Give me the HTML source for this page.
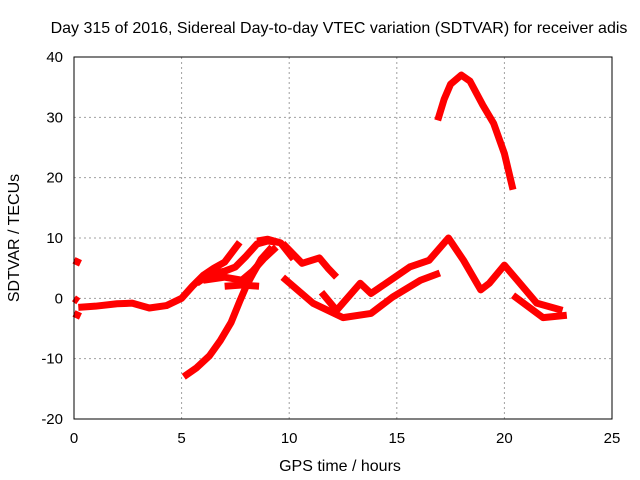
<!DOCTYPE html>
<html><head><meta charset="utf-8"><style>
body{margin:0;background:#fff;}
svg{display:block;font-family:"Liberation Sans",sans-serif;}
</style></head><body>
<svg id="chart" width="640" height="480">
<text x="339" y="33" text-anchor="middle" font-size="16" fill="#000">Day 315 of 2016, Sidereal Day-to-day VTEC variation (SDTVAR) for receiver adis</text>
<g id="grid"></g>
<g id="series"></g>
<rect x="74" y="57" width="538" height="362" fill="none" stroke="#000" stroke-width="1"/>
<g id="ticks"></g>
<text x="340" y="471" text-anchor="middle" font-size="16">GPS time / hours</text>
<text transform="translate(19,238) rotate(-90)" text-anchor="middle" font-size="16">SDTVAR / TECUs</text>
</svg>
<script>
const xTicks=[0,5,10,15,20,25];
const yTicks=[-20,-10,0,10,20,30,40];
const seriesNames=['s1','s2','s3','s4','s5','s6','s7','s8','s9','s10','s11','s12','s13','s14'];
const s1=[[0.2,-1.5],[1,-1.3],[2,-0.9],[2.7,-0.8],[3.5,-1.6],[4.3,-1.2],[5,0],[5.5,2],[6,3.8],[6.5,5],[7,6],[7.7,9.3]];
const s2=[[5.7,2.5],[6.3,4],[7,4.5],[7.5,5.2],[8,7],[8.5,9],[9,9.5],[9.5,9.3]];
const s3=[[6,3],[7,3.5],[7.8,3],[8.3,4.5],[8.8,6.5],[9.4,8.5]];
const s4=[[5.1,-13],[5.7,-11.5],[6.3,-9.5],[6.8,-7],[7.3,-4],[7.7,-0.5],[8,2],[8.3,4],[8.7,6.5],[9.2,8.5]];
const s5=[[7,2],[7.8,2.2],[8.6,2]];
const s6=[[8.5,9.5],[9,9.8],[9.6,9.2],[10.2,6.5]];
const s7=[[9.7,9.1],[10.6,5.8],[11.4,6.7],[11.8,5],[12.2,3.5]];
const s8=[[9.7,3.5],[11.1,-0.8],[12.5,-3.2],[13.8,-2.5],[14.8,0.2],[16.1,3],[17,4.2]];
const s9=[[11.5,1],[12.2,-2],[13.3,2.5],[13.8,0.8],[14.5,2.5],[15.6,5.2],[16.5,6.3],[17.4,10],[18.1,6.3],[18.9,1.4],[19.3,2.5],[20,5.5],[20.6,3],[21.5,-0.8],[22.7,-2]];
const s10=[[20.4,0.5],[21.8,-3.2],[22.9,-2.8]];
const s11=[[16.9,29.5],[17.2,33],[17.5,35.5],[18,37],[18.4,36],[19,32],[19.5,29],[20,24],[20.4,18]];
const s12=[[0,6.3],[0.3,5.8]];
const s13=[[0,-2.5],[0.3,-3]];
const s14=[[0,0],[0.2,-0.5]];
const allSeries=[s1,s2,s3,s4,s5,s6,s7,s8,s9,s10,s11,s12,s13,s14];
const X=h=>74+h*538/25;
const Y=v=>57+(40-v)*362/60;
const NS='http://www.w3.org/2000/svg';
const grid=document.getElementById('grid'),ticks=document.getElementById('ticks'),ser=document.getElementById('series');
function mk(t,a,p){const e=document.createElementNS(NS,t);for(const k in a)e.setAttribute(k,a[k]);p.appendChild(e);return e;}
xTicks.forEach(t=>{
 if(t>0&&t<25){const g=mk('line',{x1:X(t),x2:X(t),y1:57,y2:419,stroke:'#a0a0a0','stroke-dasharray':'2,3'},grid);
 
 }
 const l=mk('text',{x:X(t),y:443,'text-anchor':'middle','font-size':15},ticks);l.textContent=t;
 
 
});
yTicks.forEach(t=>{
 if(t>-20&&t<40){const g=mk('line',{x1:74,x2:612,y1:Y(t),y2:Y(t),stroke:'#a0a0a0','stroke-dasharray':'2,3'},grid);
 
 }
 const l=mk('text',{x:63,y:Y(t)+5,'text-anchor':'end','font-size':15},ticks);l.textContent=t;
 
 
});
allSeries.forEach((s,i)=>{
 const p=mk('polyline',{points:s.map(d=>X(d[0])+','+Y(d[1])).join(' '),fill:'none',stroke:'#ff0000','stroke-width':7,'stroke-linejoin':'round'},ser);
 
 
});
</script>
</body></html>
